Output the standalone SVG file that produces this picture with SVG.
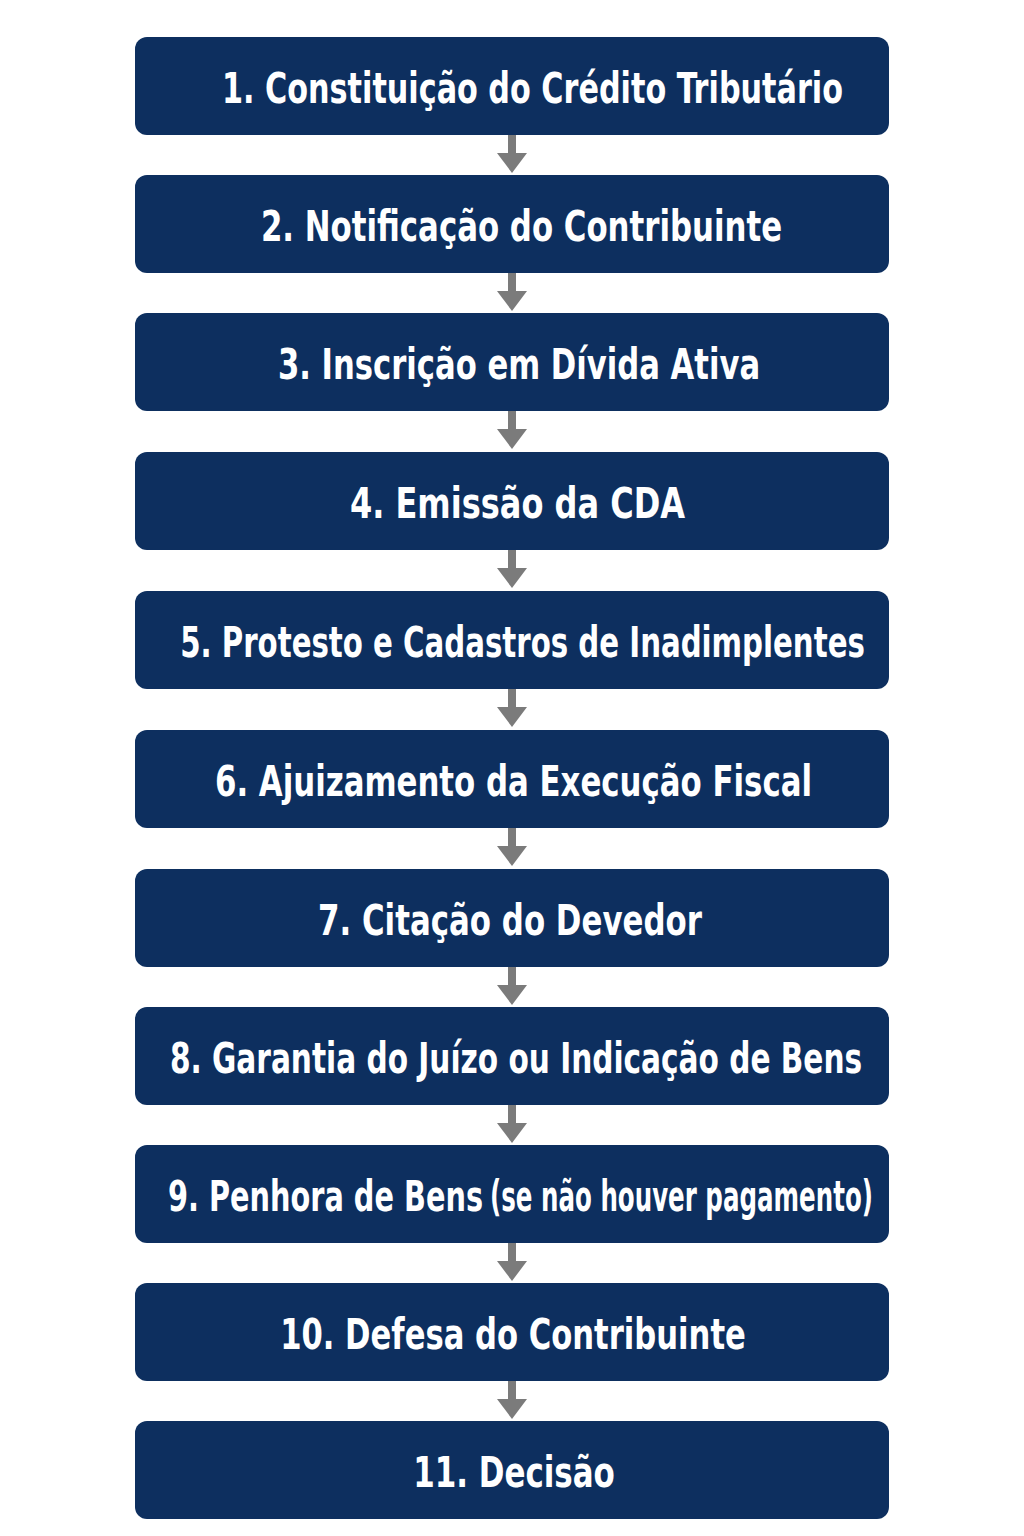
<svg xmlns="http://www.w3.org/2000/svg" width="1024" height="1536" viewBox="0 0 1024 1536">
<style>
.box{fill:#0d2f5f}
.lbl{fill:#ffffff;font-family:"Liberation Sans Narrow","DejaVu Sans Condensed","Roboto",sans-serif;font-weight:bold;font-size:43px;text-anchor:middle}
.shaft{fill:#7b7b7b}
</style>
<defs>
<g id="arr"><rect class="shaft" x="508" y="0" width="8" height="20"/><polygon class="shaft" points="497,18 527,18 512,38"/></g>
</defs>
<rect width="1024" height="1536" fill="#ffffff"/>
<g id="connectors">
<use href="#arr" y="135"/>
<use href="#arr" y="273"/>
<use href="#arr" y="411"/>
<use href="#arr" y="550"/>
<use href="#arr" y="689"/>
<use href="#arr" y="828"/>
<use href="#arr" y="967"/>
<use href="#arr" y="1105"/>
<use href="#arr" y="1243"/>
<use href="#arr" y="1381"/>
</g>
<g id="n1"><rect class="box" x="135" y="37" width="754" height="98" rx="12"/><text class="lbl" transform="translate(532.5,103) scale(0.75,1)" textLength="828" lengthAdjust="spacingAndGlyphs">1. Constituição do Crédito Tributário</text></g>
<g id="n2"><rect class="box" x="135" y="175" width="754" height="98" rx="12"/><text class="lbl" transform="translate(521.5,241) scale(0.75,1)" textLength="695" lengthAdjust="spacingAndGlyphs">2. Notificação do Contribuinte</text></g>
<g id="n3"><rect class="box" x="135" y="313" width="754" height="98" rx="12"/><text class="lbl" transform="translate(519,379) scale(0.75,1)" textLength="643" lengthAdjust="spacingAndGlyphs">3. Inscrição em Dívida Ativa</text></g>
<g id="n4"><rect class="box" x="135" y="452" width="754" height="98" rx="12"/><text class="lbl" transform="translate(517.5,518) scale(0.75,1)" textLength="447" lengthAdjust="spacingAndGlyphs">4. Emissão da CDA</text></g>
<g id="n5"><rect class="box" x="135" y="591" width="754" height="98" rx="12"/><text class="lbl" transform="translate(522.5,657) scale(0.75,1)" textLength="913" lengthAdjust="spacingAndGlyphs">5. Protesto e Cadastros de Inadimplentes</text></g>
<g id="n6"><rect class="box" x="135" y="730" width="754" height="98" rx="12"/><text class="lbl" transform="translate(513.5,796) scale(0.75,1)" textLength="796" lengthAdjust="spacingAndGlyphs">6. Ajuizamento da Execução Fiscal</text></g>
<g id="n7"><rect class="box" x="135" y="869" width="754" height="98" rx="12"/><text class="lbl" transform="translate(510,935) scale(0.75,1)" textLength="512" lengthAdjust="spacingAndGlyphs">7. Citação do Devedor</text></g>
<g id="n8"><rect class="box" x="135" y="1007" width="754" height="98" rx="12"/><text class="lbl" transform="translate(516,1073) scale(0.75,1)" textLength="923" lengthAdjust="spacingAndGlyphs">8. Garantia do Juízo ou Indicação de Bens</text></g>
<g id="n9"><rect class="box" x="135" y="1145" width="754" height="98" rx="12"/><text class="lbl" transform="translate(325.5,1211) scale(0.75,1)" textLength="420" lengthAdjust="spacingAndGlyphs">9. Penhora de Bens</text><text class="lbl" transform="translate(681.5,1211) scale(0.7,1)" font-size="39px" textLength="547" lengthAdjust="spacingAndGlyphs">(se não houver pagamento)</text></g>
<g id="n10"><rect class="box" x="135" y="1283" width="754" height="98" rx="12"/><text class="lbl" transform="translate(513,1349) scale(0.75,1)" textLength="621" lengthAdjust="spacingAndGlyphs">10. Defesa do Contribuinte</text></g>
<g id="n11"><rect class="box" x="135" y="1421" width="754" height="98" rx="12"/><text class="lbl" transform="translate(514,1487) scale(0.75,1)" textLength="269" lengthAdjust="spacingAndGlyphs">11. Decisão</text></g>
</svg>
